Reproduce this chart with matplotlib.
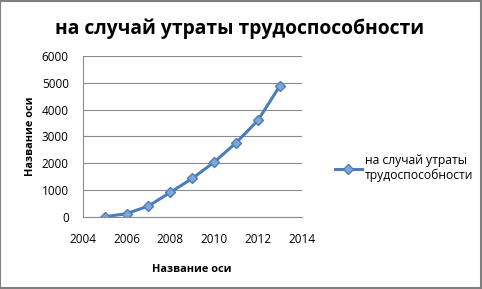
import matplotlib
matplotlib.use("Agg")
import matplotlib.pyplot as plt
from matplotlib.patches import Rectangle

years = [2005, 2006, 2007, 2008, 2009, 2010, 2011, 2012, 2013]
values = [0, 115, 400, 910, 1430, 2040, 2760, 3600, 4890]
series_name = "на случай утраты\nтрудоспособности"
title = "на случай утраты трудоспособности"
x_label = "Название оси"
y_label = "Название оси"

plt.rcParams['font.family'] = ['Open Sans', 'DejaVu Sans']

fig = plt.figure(figsize=(4.82, 2.89), dpi=100)
ax = fig.add_axes([0.1716, 0.25, 0.4545, 0.556])

line_color = "#4a7ebb"
ax.plot(years, values, color=line_color, lw=2.2, marker="D", markersize=5,
        markerfacecolor="#7fa6d8", markeredgecolor=line_color, markeredgewidth=1,
        label=series_name)

ax.set_xlim(2004, 2014)
ax.set_ylim(0, 6000)
ax.set_xticks(range(2004, 2015, 2))
ax.set_yticks(range(0, 6001, 1000))
ax.grid(axis='y', color="#8c8c8c", lw=0.8)
ax.set_axisbelow(True)
for s in ['top', 'right']:
    ax.spines[s].set_visible(False)
for s in ['left', 'bottom']:
    ax.spines[s].set_color("#8c8c8c")
    ax.spines[s].set_linewidth(0.8)
ax.tick_params(length=0, labelsize=8.5)
ax.tick_params(axis='y', pad=10)
ax.tick_params(axis='x', pad=12)

ax.set_xlabel(x_label, fontsize=7.8, fontweight='bold', labelpad=13)
ax.set_ylabel(y_label, fontsize=7.8, fontweight='bold', labelpad=4)

fig.text(0.498, 0.9, title, ha='center', va='center', fontsize=13.9, fontweight='bold')

ax.legend(loc='upper left', bbox_to_anchor=(1.1, 0.46), frameon=False,
          fontsize=8.7, handlelength=2.3, handletextpad=0.2, labelspacing=0)

fig.patches.append(Rectangle((0.001, 0.002), 0.996, 0.995, transform=fig.transFigure,
                             fill=False, edgecolor="#7f7f7f", lw=1.5))

fig.savefig("out.png", dpi=100)
